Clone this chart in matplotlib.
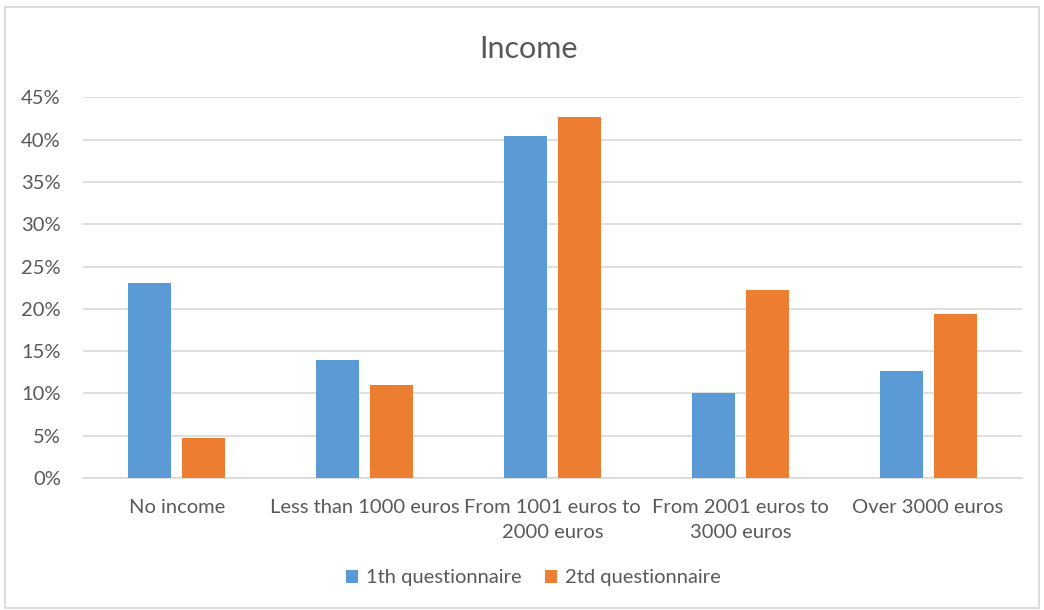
import numpy as np
import matplotlib.pyplot as plt
from matplotlib.patches import Rectangle
from matplotlib.ticker import PercentFormatter

categories = ['No income', 'Less than 1000 euros', 'From 1001 euros to\n2000 euros',
              'From 2001 euros to\n3000 euros', 'Over 3000 euros']
first_q = [23.0, 14.0, 40.4, 10.0, 12.6]
second_q = [4.7, 11.0, 42.7, 22.2, 19.4]
series_names = ['1th questionnaire', '2td questionnaire']
yticks = [0, 5, 10, 15, 20, 25, 30, 35, 40, 45]

blue = '#5B9BD5'
orange = '#ED7D31'
txt = '#595959'
plt.rcParams['font.family'] = ['Lato', 'DejaVu Sans']

fig = plt.figure(figsize=(10.44, 6.10), dpi=100)
W, H = 1044, 610
ax = fig.add_axes([83 / W, (H - 478) / H, (1022 - 83) / W, (478 - 97.3) / H])

x = np.arange(len(categories))
bw = 0.229
off = 0.1436
ax.bar(x - off, first_q, bw, color=blue, label=series_names[0], zorder=3)
ax.bar(x + off, second_q, bw, color=orange, label=series_names[1], zorder=3)

ax.set_xlim(-0.5, len(categories) - 0.5)
ax.set_ylim(0, 45)
ax.set_yticks(yticks)
ax.yaxis.set_major_formatter(PercentFormatter(decimals=0))
ax.grid(axis='y', color='#d9d9d9', linewidth=1.2, zorder=0)
for s in ['top', 'right', 'left']:
    ax.spines[s].set_visible(False)
ax.spines['bottom'].set_color('#d9d9d9')
ax.spines['bottom'].set_linewidth(1.2)
ax.tick_params(length=0, labelsize=14.5, colors=txt)
ax.tick_params(axis='y', pad=16)
ax.tick_params(axis='x', pad=15)
ax.set_xticks(x)
ax.set_xticklabels(categories, linespacing=1.6)

fig.text(529 / W, 1 - 49 / H, 'Income', ha='center', va='center', fontsize=22, color=txt)

leg = fig.legend(loc='center', bbox_to_anchor=(533 / W, 1 - 578 / H), ncol=2, frameon=False,
                 fontsize=14.5, handlelength=0.6, handleheight=0.6, handletextpad=0.4,
                 columnspacing=1.15, labelcolor=txt)

# chart frame
fig.patches.append(Rectangle((5 / W, 2 / H), 1034 / W, (H - 9) / H, transform=fig.transFigure,
                             fill=False, edgecolor='#d9d9d9', linewidth=1.3))

fig.savefig('out.png', dpi=100)
